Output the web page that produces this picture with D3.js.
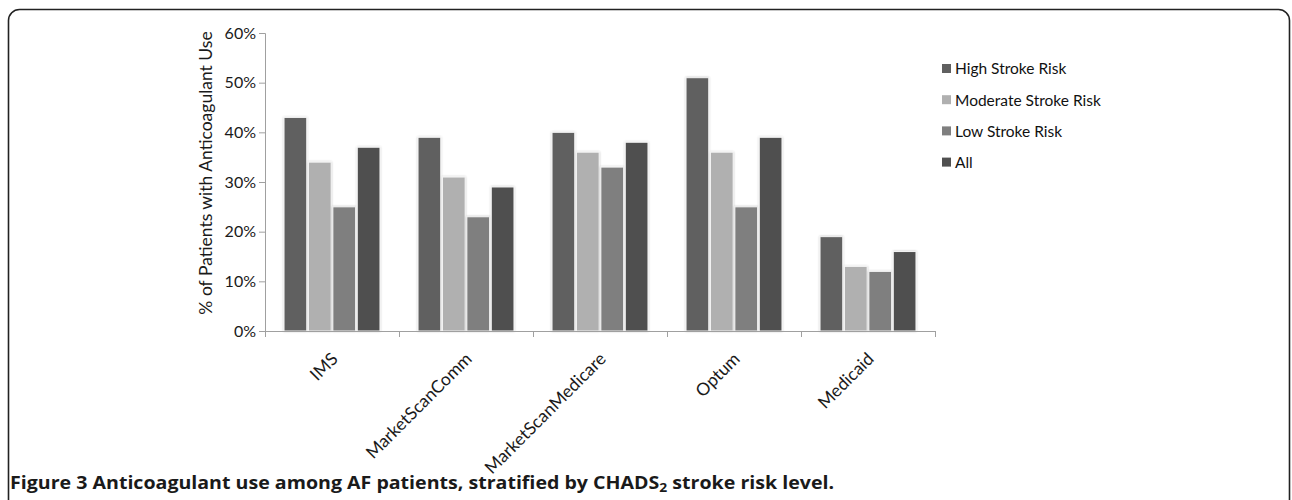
<!DOCTYPE html>
<html>
<head>
<meta charset="utf-8">
<script src="https://cdn.jsdelivr.net/npm/d3@7"></script>
<style>
  html, body { margin: 0; padding: 0; background: #fff; }
  svg { display: block; }
</style>
</head>
<body>
<svg id="chart" width="1292" height="500"></svg>
<script>
// Data: share of AF patients with anticoagulant use, by database and CHADS2 risk level
const categories = ["IMS", "MarketScanComm", "MarketScanMedicare", "Optum", "Medicaid"];
const seriesNames = ["High Stroke Risk", "Moderate Stroke Risk", "Low Stroke Risk", "All"];
const highRisk     = [43, 39, 40, 51, 19];
const moderateRisk = [34, 31, 36, 36, 13];
const lowRisk      = [25, 23, 33, 25, 12];
const allRisk      = [37, 29, 38, 39, 16];
const yTicks = [0, 10, 20, 30, 40, 50, 60];
const seriesColors = ["#606060", "#b0b0b0", "#7f7f7f", "#505050"];

const seriesValues = [highRisk, moderateRisk, lowRisk, allRisk];
const rows = categories.map((c, i) => ({
  category: c,
  values: seriesNames.map((s, j) => ({ series: s, value: seriesValues[j][i], color: seriesColors[j] }))
}));

const svg = d3.select("#chart");
const font = "Lato, 'Open Sans', sans-serif";

// Figure frame with rounded top corners
svg.append("rect")
  .attr("x", 8.5).attr("y", 9.5)
  .attr("width", 1281).attr("height", 540)
  .attr("rx", 11).attr("ry", 11)
  .attr("fill", "none").attr("stroke", "#222").attr("stroke-width", 1.6);

const plot = { left: 265, right: 935, top: 33, bottom: 331 };

const x0 = d3.scaleBand().domain(categories)
  .range([plot.left, plot.right]).paddingInner(0.284).paddingOuter(0.142);
const x1 = d3.scaleBand().domain(seriesNames)
  .range([0, x0.bandwidth()]).paddingInner(0.07);
const y = d3.scaleLinear().domain([0, 60]).range([plot.bottom, plot.top]);

// soft shadow for bars
const defs = svg.append("defs");
const f = defs.append("filter").attr("id", "barShadow")
  .attr("x", "-30%").attr("y", "-10%").attr("width", "160%").attr("height", "120%");
f.append("feGaussianBlur").attr("in", "SourceAlpha").attr("stdDeviation", 1.2).attr("result", "b");
f.append("feComponentTransfer").attr("in", "b").attr("result", "s")
  .append("feFuncA").attr("type", "linear").attr("slope", 0.25);
const fm = f.append("feMerge");
fm.append("feMergeNode").attr("in", "s");
fm.append("feMergeNode").attr("in", "SourceGraphic");

// Bars
const groups = svg.append("g").selectAll("g").data(rows).join("g")
  .attr("transform", d => `translate(${x0(d.category)},0)`);
groups.selectAll("rect").data(d => d.values).join("rect")
  .attr("x", d => x1(d.series))
  .attr("y", d => y(d.value))
  .attr("width", x1.bandwidth())
  .attr("height", d => y(0) - y(d.value))
  .attr("fill", d => d.color)
  .attr("stroke", "#f4f4f4").attr("stroke-width", 1)
  .attr("filter", "url(#barShadow)");

// Y axis
const yAxis = d3.axisLeft(y).tickValues(yTicks).tickFormat(d => d + "%").tickSize(6).tickPadding(3);
const gy = svg.append("g").attr("transform", `translate(${plot.left},0)`).call(yAxis);
gy.select(".domain").attr("stroke", "#a0a0a0");
gy.selectAll(".tick line").attr("stroke", "#a0a0a0");
gy.selectAll(".tick text").attr("font-family", font).attr("font-size", 16).attr("fill", "#1a1a1a");

// X axis
const xTickPos = categories.map((c, i) => plot.left + i * x0.step()).concat([plot.right]);
const gx = svg.append("g");
gx.append("line").attr("x1", plot.left).attr("x2", plot.right)
  .attr("y1", plot.bottom + 0.5).attr("y2", plot.bottom + 0.5).attr("stroke", "#a0a0a0");
gx.selectAll("line.tk").data(xTickPos).join("line").attr("class", "tk")
  .attr("x1", d => Math.round(d) + 0.5).attr("x2", d => Math.round(d) + 0.5)
  .attr("y1", plot.bottom).attr("y2", plot.bottom + 6).attr("stroke", "#a0a0a0");
gx.selectAll("text").data(categories).join("text")
  .attr("transform", d => `translate(${x0(d) + x0.bandwidth() / 2 + 7},${plot.bottom + 29}) rotate(-45)`)
  .attr("text-anchor", "end")
  .attr("font-family", font).attr("font-size", 17.5).attr("fill", "#1a1a1a")
  .text(d => d);

// Y axis title
svg.append("text")
  .attr("transform", `translate(212,173) rotate(-90)`)
  .attr("text-anchor", "middle")
  .attr("font-family", font).attr("font-size", 17.5).attr("fill", "#1a1a1a")
  .text("% of Patients with Anticoagulant Use");

// Legend
const legend = svg.append("g").attr("transform", "translate(942,0)");
const li = legend.selectAll("g").data(seriesNames).join("g")
  .attr("transform", (d, i) => `translate(0,${69 + i * 31.2})`);
li.append("rect").attr("x", 0).attr("y", -5).attr("width", 9).attr("height", 9)
  .attr("fill", (d, i) => seriesColors[i]);
li.append("text").attr("x", 13).attr("y", 0).attr("dy", "0.35em")
  .attr("font-family", font).attr("font-size", 15.5).attr("fill", "#111")
  .text(d => d);

// Caption, stretched horizontally to the frame's text width
const capG = svg.append("g");
const cap = capG.append("text").attr("x", 0).attr("y", 0)
  .attr("font-family", "'Open Sans', sans-serif")
  .attr("font-weight", "bold").attr("font-size", 17).attr("fill", "#1a1a1a");
cap.append("tspan").text("Figure 3 ");
cap.append("tspan").text("Anticoagulant use among AF patients, stratified by CHADS");
cap.append("tspan").attr("dy", 3).attr("font-size", 12).text("2");
cap.append("tspan").attr("dy", -3).text(" stroke risk level.");
const capWidth = cap.node().getComputedTextLength();
capG.attr("transform", `translate(10,489) scale(${825 / capWidth},1)`);
</script>
</body>
</html>
